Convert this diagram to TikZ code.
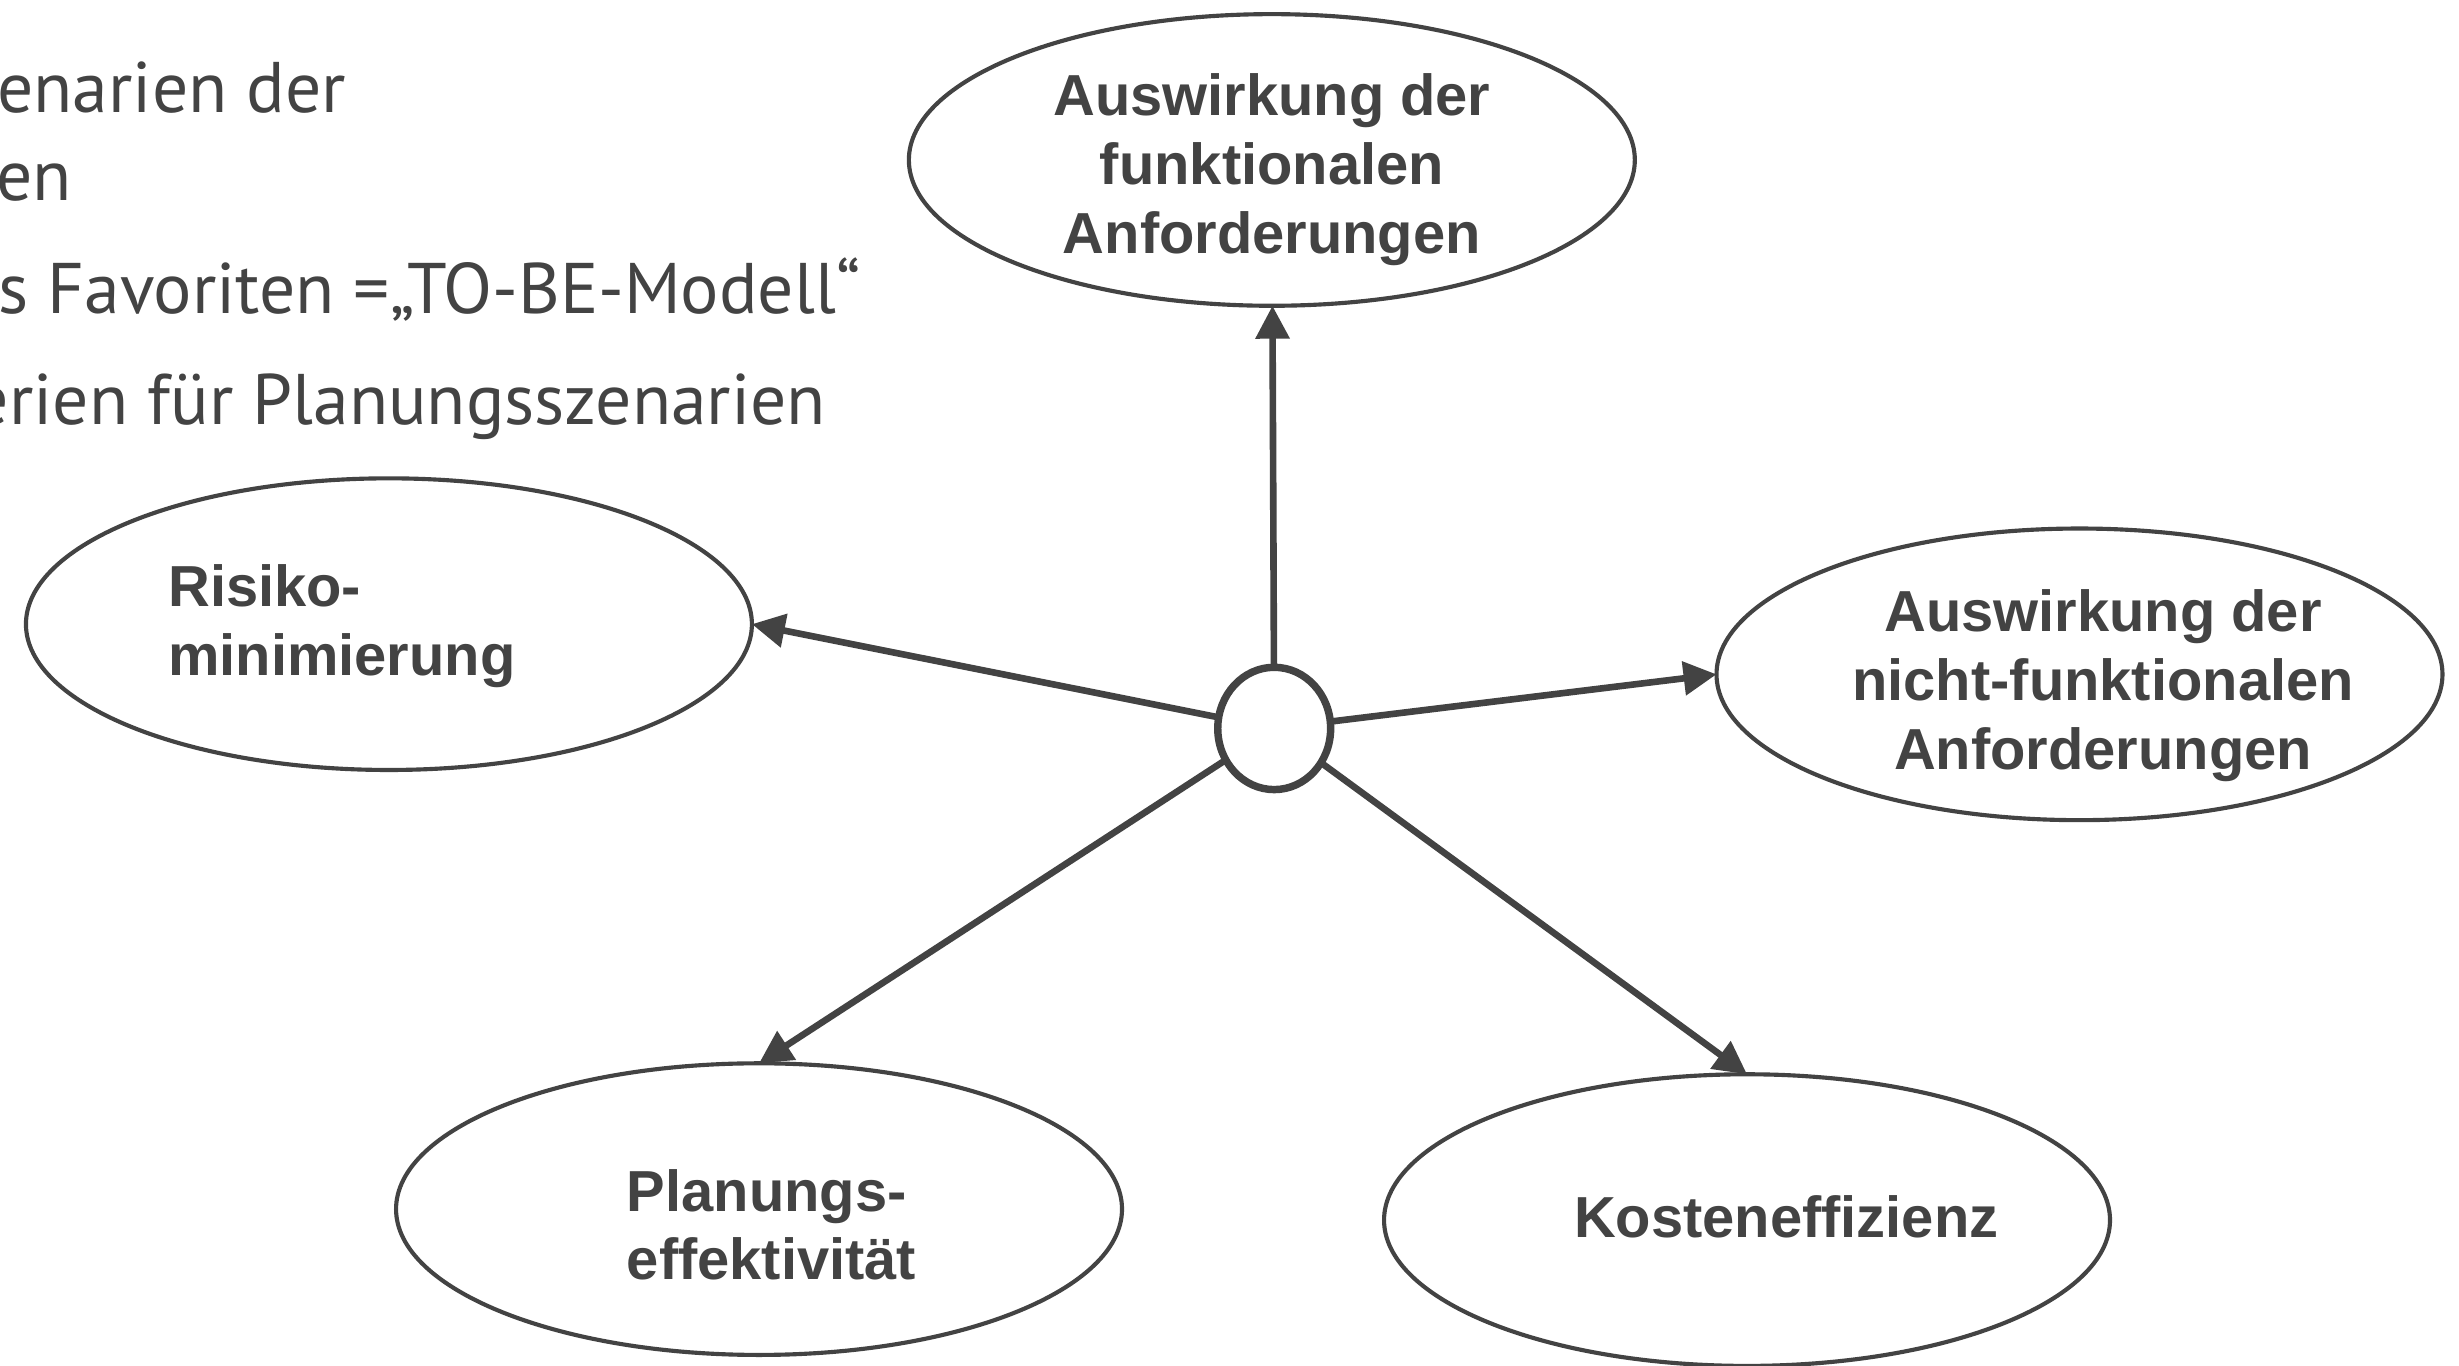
\documentclass[tikz,border=0pt]{standalone}
\usepackage{fontspec}
\setmainfont{Liberation Sans}
\newfontfamily\bodyfont{PT Sans}
\usetikzlibrary{shapes.geometric,arrows.meta}
\definecolor{ink}{HTML}{434343}
\begin{document}
\begin{tikzpicture}[x=0.02cm,y=-0.02cm,
  goal/.style={draw=ink,line width=1.5pt,ellipse,inner sep=0pt,outer sep=0pt,
    minimum width=9.26cm,minimum height=3.72cm},
  hub/.style={draw=ink,line width=2.7pt,ellipse,inner sep=0pt,outer sep=0pt,
    minimum width=1.44cm,minimum height=1.56cm},
  lbl/.style={text=ink,font=\fontsize{21pt}{25pt}\selectfont\bfseries,inner sep=0pt},
  bullet/.style={text=ink,font=\bodyfont\fontsize{26pt}{30pt}\selectfont,inner sep=0pt,anchor=base east},
  arr/.style={draw=ink,line width=2.4pt,-{Triangle[length=0.42cm,width=0.42cm]}}]
\clip (0,0) rectangle (1568,871);
\fill[white] (0,0) rectangle (1568,871);

% bullet text at the upper left
\node[bullet] (t1) at (221,72) {enarien der};
\node[bullet] (t2) at (46,128) {en};
\node[bullet] (t3) at (549,200) {s Favoriten =„TO-BE-Modell“};
\node[bullet] (t4) at (527,271) {erien für Planungsszenarien};

% goal ellipses
\node[goal] (func) at (811,102) {};
\node[goal] (nfunc) at (1326,430) {};
\node[goal] (risk) at (248,398) {};
\node[goal] (plan) at (484,771) {};
\node[goal] (cost) at (1114,778) {};

\node[lbl,align=center] (funcT) at (811,108) {Auswirkung der\\funktionalen\\Anforderungen};
\node[lbl,align=center] (nfuncT) at (1341,437) {Auswirkung der\\nicht-funktionalen\\Anforderungen};
\node[lbl,align=left] (riskT) at (218,399) {Risiko-\\minimierung};
\node[lbl,align=left] (planT) at (492,781) {Planungs-\\effektivität};
\node[lbl] (costT) at (1139,776) {Kosteneffizienz};

% central hub
\node[hub] (c) at (812.5,464.5) {};

% connectors
\draw[arr] (c) -- (func);
\draw[arr] (c) -- (risk.east);
\draw[arr] (c) -- (nfunc.west);
\draw[arr] (c) -- (plan.north);
\draw[arr] (c) -- (cost.north);
\end{tikzpicture}
\end{document}
